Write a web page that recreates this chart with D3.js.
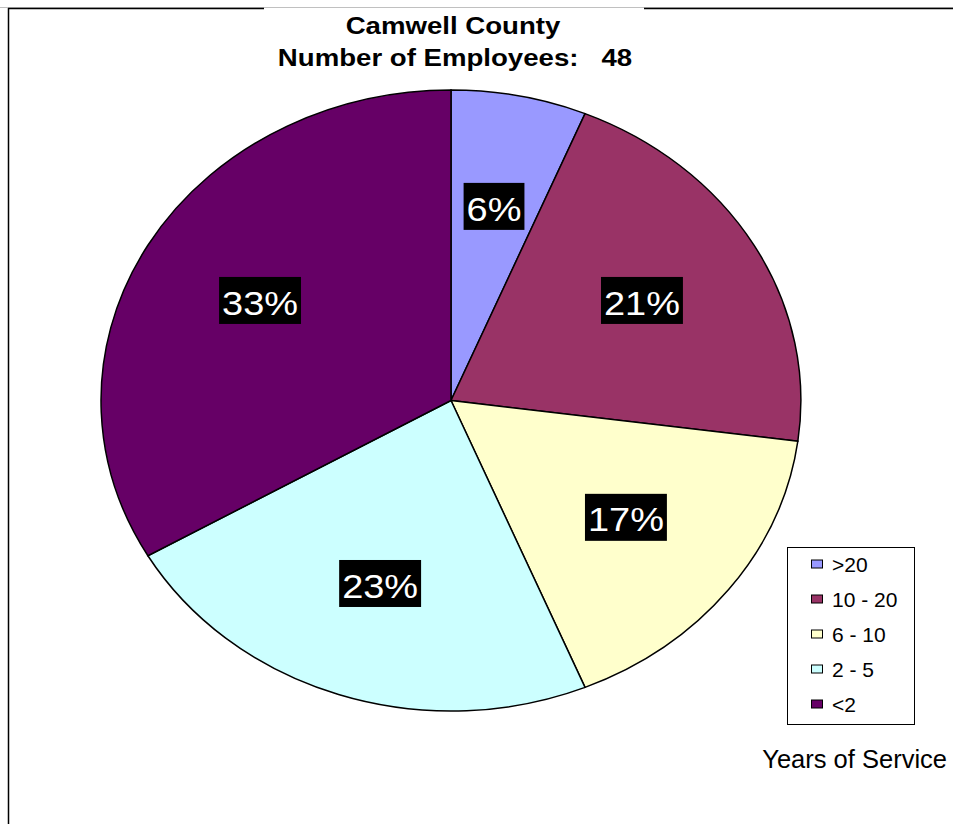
<!DOCTYPE html>
<html>
<head>
<meta charset="utf-8">
<script src="https://cdn.jsdelivr.net/npm/d3@7"></script>
<style>
  html, body { margin: 0; padding: 0; background: #fff; }
  svg { display: block; }
  text { font-family: Arial, "Liberation Sans", sans-serif; white-space: pre; }
</style>
</head>
<body>
<svg id="chart" width="953" height="824"></svg>
<script>
// Years-of-service breakdown, Camwell County
const categories = [">20", "10 - 20", "6 - 10", "2 - 5", "<2"];
const employees = [3, 10, 8, 11, 16];
const colors = ["#9999FF", "#993366", "#FFFFCC", "#CCFFFF", "#660066"];
const titleLine1 = "Camwell County";
const titleLabel = "Number of Employees:";
const legendTitle = "Years of Service";

const total = d3.sum(employees);
const data = categories.map((c, i) => ({ category: c, value: employees[i], color: colors[i] }));

const svg = d3.select("#chart");
const W = 953, H = 824;
const wide = 1.15; // horizontal stretch of title and slice labels

// chart frame: thin grey top rule, black top and left edges broken behind the title
svg.append("line").attr("x1", 0).attr("x2", W).attr("y1", 7.5).attr("y2", 7.5)
  .attr("stroke", "#c0c0c0").attr("stroke-width", 1);
svg.append("line").attr("x1", 8).attr("x2", 264).attr("y1", 8.5).attr("y2", 8.5)
  .attr("stroke", "#000").attr("stroke-width", 1.5);
svg.append("line").attr("x1", 644).attr("x2", W).attr("y1", 8.5).attr("y2", 8.5)
  .attr("stroke", "#000").attr("stroke-width", 1.5);
svg.append("line").attr("x1", 8.5).attr("x2", 8.5).attr("y1", 8).attr("y2", H)
  .attr("stroke", "#000").attr("stroke-width", 1.5);

// title
const title = svg.append("g").attr("font-weight", "bold").attr("font-size", 24).attr("text-anchor", "middle");
title.append("text").attr("transform", `translate(453,34) scale(${wide},1)`).text(titleLine1);
title.append("text").attr("transform", `translate(455,66) scale(${wide},1)`).text(titleLabel + "   " + total);

// elliptical pie: unit-radius arcs stretched to the plot ellipse
const cx = 451, cy = 400.5, rx = 350, ry = 310.5;
const pie = d3.pie().value(d => d.value).sort(null);
const arcs = pie(data);
const arc = d3.arc().innerRadius(0).outerRadius(1);
const labelArc = d3.arc().innerRadius(1).outerRadius(1);
const labelRx = 0.63 * rx, labelRy = 0.63 * ry;

const pieG = svg.append("g").attr("transform", `translate(${cx},${cy})`);
pieG.selectAll("path.slice").data(arcs).join("path")
  .attr("class", "slice")
  .attr("d", arc)
  .attr("transform", `scale(${rx},${ry})`)
  .attr("fill", d => d.data.color)
  .attr("stroke", "#000")
  .attr("stroke-width", 1.5)
  .attr("vector-effect", "non-scaling-stroke");

// percentage labels: white text on black boxes
const fs = 33;
const lab = pieG.selectAll("g.lab").data(arcs).join("g")
  .attr("class", "lab")
  .attr("transform", d => {
    const [x, y] = labelArc.centroid(d);
    return `translate(${x * labelRx},${y * labelRy})`;
  });
lab.each(function(d) {
  const g = d3.select(this);
  const t = g.append("text")
    .attr("text-anchor", "middle")
    .attr("transform", `translate(0,${fs * 0.36}) scale(${wide},1)`)
    .attr("font-size", fs)
    .attr("fill", "#fff")
    .text(Math.round(d.data.value / total * 100) + "%");
  const w = t.node().getComputedTextLength() * wide + 6;
  const base = fs * 0.36;
  g.insert("rect", "text")
    .attr("x", -w / 2).attr("y", base - fs * 0.716 - 14)
    .attr("width", w).attr("height", 47)
    .attr("fill", "#000");
});

// legend
const legend = svg.append("g");
legend.append("rect").attr("x", 787.5).attr("y", 547.5).attr("width", 127).attr("height", 177)
  .attr("fill", "#fff").attr("stroke", "#000").attr("stroke-width", 1);
const y0 = 564, step = 35;
const items = legend.selectAll("g.item").data(data).join("g").attr("class", "item")
  .attr("transform", (d, i) => `translate(0,${y0 + i * step})`);
items.append("rect").attr("x", 811.5).attr("y", -4).attr("width", 11).attr("height", 8)
  .attr("fill", d => d.color).attr("stroke", "#000").attr("stroke-width", 1);
items.append("text").attr("x", 832).attr("dy", "0.36em").attr("font-size", 21)
  .text(d => d.category);

svg.append("text").attr("x", 947).attr("y", 768).attr("text-anchor", "end")
  .attr("font-size", 25.5).text(legendTitle);
</script>
</body>
</html>
